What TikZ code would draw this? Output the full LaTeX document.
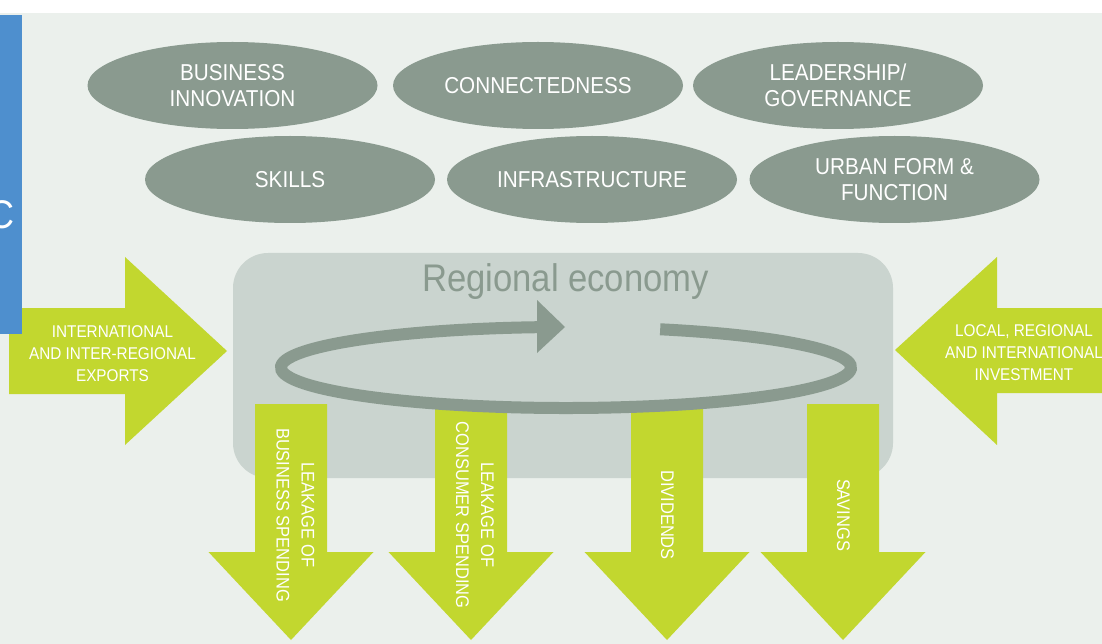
\documentclass[tikz,border=0pt]{standalone}
\usepackage{fontspec}
\setmainfont{Liberation Sans}[FakeStretch=0.9]
\usetikzlibrary{shapes.geometric}

\definecolor{pagebg}{HTML}{EBF0EC}
\definecolor{econbox}{HTML}{CAD4CF}
\definecolor{sage}{HTML}{8A9A8F}
\definecolor{lime}{HTML}{C2D72F}
\definecolor{sidebar}{HTML}{4E8FCE}

\begin{document}
\begin{tikzpicture}[x=1pt,y=-1pt,
  factor/.style={ellipse, fill=sage, minimum width=290pt, minimum height=87pt,
    inner sep=0pt, text=white, align=center, font=\fontsize{23}{26}\selectfont},
  flowlabel/.style={text=white, align=center, inner sep=0pt,
    font=\fontsize{17}{22}\selectfont},
  leaklabel/.style={text=white, align=center, inner sep=0pt, rotate=-90,
    font=\fontsize{18.3}{25}\selectfont},
  ring/.style={draw=sage, line width=12pt},
  downflow/.pic={\fill[lime] (-36,0) -- (36,0) -- (36,148) -- (82.5,148)
    -- (0,236) -- (-82.5,148) -- (-36,148) -- cycle;}
]
% canvas
\clip (0,0) rectangle (1102,644);
\fill[white] (0,0) rectangle (1102,644);
\fill[pagebg] (0,13) rectangle (1102,644);

% factor ellipses
\node[factor] (innov)  at (232.5,85.5) {BUSINESS\\INNOVATION};
\node[factor] (conn)   at (538,85.5)   {CONNECTEDNESS};
\node[factor] (lead)   at (838,85.5)   {LEADERSHIP/\\GOVERNANCE};
\node[factor] (skills) at (290,179.5)  {SKILLS};
\node[factor] (infra)  at (592,179.5)  {INFRASTRUCTURE};
\node[factor] (urban)  at (894.5,179.5){URBAN FORM \&\\FUNCTION};

% regional economy panel
\fill[econbox, rounded corners=35pt] (233,253) rectangle (893,478);
\node[anchor=base, text=sage, inner sep=0pt, font=\fontsize{38.5}{41}\selectfont]
  (econ) at (565.5,291) {Regional economy};

% inflows
\fill[lime] (9,308) -- (125,308) -- (125,257) -- (227,351) -- (125,445)
  -- (125,394) -- (9,394) -- cycle;
\node[flowlabel] (exports) at (112.5,353.5)
  {INTERNATIONAL\\AND INTER-REGIONAL\\EXPORTS};
\fill[lime] (1110,308) -- (997,308) -- (997,257) -- (895,350) -- (997,445)
  -- (997,393) -- (1110,393) -- cycle;
\node[flowlabel] (invest) at (1024,353)
  {LOCAL, REGIONAL\\AND INTERNATIONAL\\INVESTMENT};

% outflows
\pic at (291,404) {downflow};
\pic at (471,404) {downflow};
\pic at (667,404) {downflow};
\pic at (843,404) {downflow};
\node[leaklabel] (leakbiz) at (295.5,515) {LEAKAGE OF\\BUSINESS SPENDING};
\node[leaklabel] (leakcon) at (475,515)   {LEAKAGE OF\\CONSUMER SPENDING};
\node[leaklabel] (divid)   at (667.5,515) {DIVIDENDS};
\node[leaklabel] (savings) at (843.5,515) {SAVINGS};

% circulation loop
\draw[ring] (566,367.5) ++(-70.7:285 and 40.5)
  arc[start angle=-70.7, end angle=264.5, x radius=285, y radius=40.5];
\fill[sage] (537,300) -- (565,327) -- (537,353) -- cycle;

% side bar
\fill[sidebar] (0,15) rectangle (22,334);
\node[anchor=base east, text=white, inner sep=0pt,
  font=\fontsize{40}{44}\selectfont] (sidec) at (15,229) {C};
\end{tikzpicture}
\end{document}
